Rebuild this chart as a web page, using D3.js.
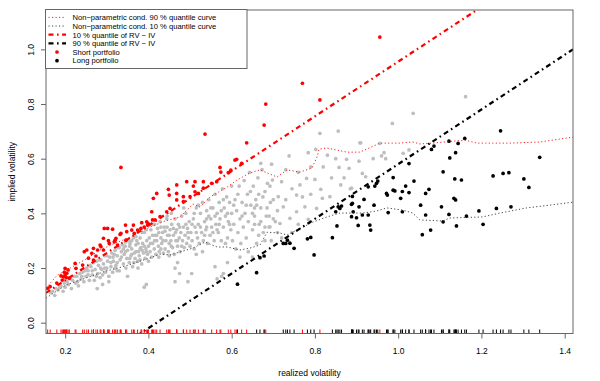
<!DOCTYPE html>
<html><head><meta charset="utf-8">
<script src="https://cdn.jsdelivr.net/npm/d3@7"></script>
<style>
body{margin:0;background:#fff}
svg{display:block}
text{font-family:"Liberation Sans",Arial,Helvetica,sans-serif;fill:#000}
</style>
</head><body>
<svg id="chart" width="600" height="381"></svg>
<script>
// ---------- data (realized volatility, implied volatility) ----------
const grayPoints = [
[0.165,0.11],[0.17,0.115],[0.175,0.1],[0.178,0.125],[0.183,0.12],[0.187,0.13],[0.19,0.135],[0.195,0.115],[0.198,0.145],[0.2,0.13],[0.205,0.15],[0.208,0.14],[0.212,0.16],[0.215,0.125],[0.218,0.155],[0.222,0.17],[0.225,0.145],[0.228,0.17],[0.232,0.135],[0.235,0.18],[0.238,0.16],[0.242,0.185],[0.245,0.15],[0.248,0.19],
[0.25,0.17],[0.252,0.2],[0.255,0.19],[0.258,0.155],[0.26,0.21],[0.262,0.205],[0.265,0.175],[0.268,0.22],[0.27,0.155],[0.272,0.195],[0.275,0.225],[0.277,0.125],[0.278,0.18],[0.28,0.21],[0.282,0.23],[0.284,0.165],[0.286,0.23],[0.288,0.195],[0.29,0.175],[0.292,0.215],[0.295,0.245],[0.297,0.185],[0.3,0.245],[0.3,0.2],[0.302,0.225],[0.305,0.17],[0.307,0.24],[0.31,0.205],[0.312,0.255],[0.314,0.185],[0.316,0.225],[0.318,0.25],[0.32,0.2],[0.32,0.265],[0.305,0.15],[0.29,0.14],
[0.322,0.21],[0.325,0.245],[0.327,0.275],[0.33,0.19],[0.332,0.23],[0.335,0.26],[0.337,0.285],[0.34,0.215],[0.342,0.25],[0.344,0.28],[0.346,0.2],[0.348,0.235],[0.35,0.265],[0.352,0.3],[0.354,0.22],[0.356,0.29],[0.358,0.245],[0.36,0.27],[0.362,0.205],[0.364,0.31],[0.366,0.255],[0.368,0.235],[0.37,0.285],[0.372,0.3],[0.374,0.225],[0.376,0.26],[0.378,0.245],[0.38,0.31],[0.382,0.275],[0.384,0.215],[0.386,0.29],[0.388,0.255],[0.39,0.33],[0.392,0.235],[0.394,0.27],[0.396,0.3],[0.398,0.25],[0.4,0.28],[0.4,0.225],[0.35,0.17],[0.39,0.13],[0.395,0.14],[0.375,0.2],[0.36,0.3],[0.345,0.295],[0.33,0.275],[0.385,0.33],[0.37,0.315],[0.395,0.34],[0.34,0.27],[0.365,0.22],[0.38,0.23],[0.355,0.235],[0.325,0.19],[0.385,0.265],
[0.402,0.31],[0.404,0.26],[0.406,0.34],[0.408,0.24],[0.41,0.29],[0.412,0.36],[0.414,0.27],[0.416,0.32],[0.418,0.25],[0.42,0.3],[0.422,0.345],[0.424,0.28],[0.426,0.26],[0.428,0.37],[0.43,0.31],[0.432,0.29],[0.434,0.33],[0.436,0.255],[0.438,0.35],[0.44,0.27],[0.442,0.3],[0.444,0.38],[0.446,0.32],[0.448,0.26],[0.45,0.29],[0.452,0.34],[0.454,0.3],[0.456,0.36],[0.458,0.275],[0.46,0.32],[0.462,0.25],[0.464,0.38],[0.466,0.3],[0.468,0.34],[0.47,0.28],[0.472,0.36],[0.474,0.31],[0.476,0.26],[0.478,0.33],[0.48,0.39],[0.482,0.3],[0.484,0.35],[0.486,0.275],[0.488,0.32],[0.49,0.4],[0.492,0.29],[0.494,0.345],[0.496,0.31],[0.498,0.37],[0.5,0.28],[0.464,0.2],[0.47,0.22],[0.464,0.15],[0.475,0.18],[0.495,0.15],[0.43,0.35],[0.415,0.36],[0.445,0.39],[0.455,0.4],[0.425,0.24],[0.485,0.42],[0.45,0.245],[0.44,0.335],[0.46,0.345],[0.42,0.32],
[0.502,0.33],[0.505,0.3],[0.508,0.38],[0.51,0.27],[0.512,0.35],[0.515,0.42],[0.518,0.31],[0.52,0.36],[0.522,0.29],[0.525,0.4],[0.528,0.33],[0.53,0.44],[0.532,0.3],[0.535,0.37],[0.538,0.34],[0.54,0.41],[0.542,0.29],[0.545,0.45],[0.548,0.32],[0.55,0.38],[0.552,0.35],[0.555,0.42],[0.558,0.3],[0.56,0.47],[0.562,0.36],[0.565,0.4],[0.568,0.33],[0.57,0.44],[0.572,0.38],[0.575,0.3],[0.578,0.49],[0.58,0.35],[0.582,0.42],[0.585,0.39],[0.588,0.46],[0.59,0.31],[0.592,0.37],[0.595,0.44],[0.598,0.34],[0.6,0.5],[0.6,0.4],[0.504,0.18],[0.56,0.205],[0.565,0.16],[0.576,0.17],[0.58,0.18],[0.59,0.22],[0.515,0.25],[0.53,0.26],[0.545,0.39],[0.555,0.33],[0.57,0.36],[0.585,0.29],[0.52,0.43],[0.54,0.35],
[0.602,0.3],[0.605,0.36],[0.608,0.45],[0.61,0.27],[0.612,0.41],[0.615,0.33],[0.618,0.5],[0.62,0.38],[0.622,0.29],[0.625,0.44],[0.628,0.35],[0.63,0.52],[0.632,0.4],[0.635,0.31],[0.638,0.47],[0.64,0.37],[0.643,0.55],[0.646,0.43],[0.65,0.34],[0.652,0.5],[0.655,0.39],[0.658,0.45],[0.66,0.29],[0.663,0.53],[0.666,0.36],[0.67,0.42],[0.673,0.56],[0.676,0.33],[0.68,0.48],[0.683,0.39],[0.686,0.51],[0.69,0.35],[0.693,0.44],[0.696,0.58],[0.7,0.38],[0.62,0.24],[0.64,0.26],[0.65,0.24],[0.68,0.3],[0.695,0.3],
[0.65,0.4],[0.66,0.43],[0.67,0.37],[0.675,0.46],[0.685,0.42],[0.69,0.39],[0.7,0.45],[0.705,0.37],[0.71,0.33],[0.665,0.32],[0.68,0.35],[0.655,0.36],
[0.812,0.693],[0.856,0.701],[0.784,0.622],[0.738,0.61],[0.802,0.634],[0.83,0.613],[0.876,0.598],[0.908,0.658],[0.888,0.492],[0.882,0.565],[0.858,0.568],[0.862,0.504],[0.814,0.488],[0.818,0.455],[0.836,0.461],[0.78,0.528],[0.8,0.524],[0.764,0.504],[0.756,0.467],[0.776,0.424],[0.804,0.418],[0.784,0.378],[0.756,0.406],[0.74,0.382],[0.724,0.424],[0.712,0.461],[0.72,0.516],[0.698,0.522],[0.692,0.5],[0.67,0.583],[0.716,0.363],[0.692,0.351],[0.986,0.729],[1.036,0.766],[1.162,0.827],[0.956,0.656],[0.91,0.658],[0.966,0.622],[0.96,0.61],[1.012,0.62],[1.026,0.632],[0.906,0.591],[0.914,0.546],[0.922,0.534],[0.885,0.49],[0.73,0.45],[0.745,0.49],[0.77,0.46],[0.79,0.47],[0.76,0.55],[0.73,0.56],[0.745,0.33],[0.76,0.36],[0.71,0.41],[0.72,0.31],[0.79,0.57],[0.84,0.53],[0.85,0.6],[0.87,0.53],[0.82,0.57],[0.94,0.6],[0.97,0.6],
[0.23,0.15],[0.24,0.17],[0.255,0.175],[0.265,0.19],[0.275,0.17],[0.285,0.2],[0.295,0.2],[0.31,0.22],[0.315,0.24],[0.325,0.22],[0.335,0.24],[0.345,0.26],[0.355,0.28],[0.36,0.25],[0.37,0.26],[0.375,0.29],[0.38,0.27],[0.39,0.28],[0.395,0.26],[0.405,0.29],[0.41,0.32],[0.415,0.3],[0.425,0.33],[0.43,0.27],[0.435,0.3],[0.445,0.35],[0.45,0.32],[0.455,0.28],[0.465,0.33],[0.47,0.3],[0.475,0.35],[0.48,0.28],[0.49,0.36],[0.495,0.33],[0.505,0.36],[0.51,0.4],[0.515,0.33],[0.525,0.35],[0.535,0.32],[0.54,0.38],[0.55,0.42],[0.56,0.39],[0.565,0.34],[0.575,0.41],[0.58,0.45],[0.59,0.4],[0.595,0.36],[0.605,0.43],[0.615,0.47],[0.625,0.39],[0.635,0.43],[0.645,0.48],[0.655,0.42],[0.665,0.47]
];
const shortPoints = [
[0.158,0.126],[0.164,0.132],[0.18,0.145],[0.19,0.171],[0.196,0.168],[0.2,0.199],[0.204,0.181],[0.198,0.185],[0.207,0.193],[0.21,0.163],[0.193,0.156],[0.224,0.217],[0.226,0.199],[0.242,0.211],[0.246,0.26],[0.252,0.266],[0.256,0.236],[0.264,0.254],[0.268,0.229],[0.268,0.272],[0.278,0.266],[0.274,0.244],[0.284,0.284],[0.292,0.266],[0.286,0.278],[0.292,0.309],[0.294,0.345],[0.302,0.345],[0.314,0.342],[0.304,0.3],[0.306,0.29],[0.318,0.296],[0.32,0.302],[0.322,0.309],[0.332,0.323],[0.326,0.284],[0.334,0.327],[0.346,0.302],[0.345,0.357],[0.348,0.333],[0.36,0.339],[0.364,0.357],[0.366,0.327],[0.374,0.339],[0.382,0.345],[0.384,0.366],[0.396,0.369],[0.398,0.357],[0.41,0.376],[0.334,0.568],[0.408,0.406],[0.412,0.455],[0.42,0.473],[0.416,0.376],[0.428,0.388],[0.444,0.406],[0.452,0.418],[0.448,0.488],[0.45,0.467],[0.468,0.504],[0.468,0.473],[0.468,0.449],[0.484,0.461],[0.484,0.443],[0.492,0.516],[0.5,0.461],[0.508,0.5],[0.512,0.479],[0.512,0.516],[0.532,0.516],[0.532,0.492],[0.552,0.51],[0.564,0.516],[0.572,0.568],[0.574,0.551],[0.592,0.549],[0.598,0.558],[0.608,0.595],[0.612,0.598],[0.624,0.583],[0.636,0.658],[0.536,0.69],[0.678,0.723],[0.682,0.8],[0.77,0.876],[0.812,0.815],[0.956,1.045],[0.52,0.473],[0.39,0.35],[0.4,0.362],[0.2,0.175],[0.203,0.165]
];
const longPoints = [
[0.66,0.183],[0.668,0.238],[0.678,0.244],[0.614,0.141],[0.724,0.29],[0.73,0.29],[0.734,0.302],[0.74,0.291],[0.75,0.272],[0.798,0.248],[0.782,0.307],[0.79,0.312],[0.842,0.311],[0.853,0.354],[0.856,0.424],[0.86,0.418],[0.864,0.427],[0.85,0.406],[0.888,0.388],[0.904,0.356],[0.89,0.437],[0.9,0.384],[0.89,0.462],[0.888,0.433],[0.892,0.406],[0.914,0.394],[0.918,0.451],[0.928,0.497],[0.928,0.394],[0.932,0.357],[0.934,0.339],[0.942,0.43],[0.948,0.51],[0.951,0.518],[0.944,0.5],[0.972,0.473],[0.974,0.467],[0.976,0.403],[0.988,0.485],[0.992,0.482],[0.988,0.531],[1.006,0.455],[1.01,0.406],[1.018,0.5],[1.026,0.476],[1.026,0.582],[1.038,0.518],[1.054,0.43],[1.058,0.322],[1.066,0.473],[1.074,0.488],[1.066,0.394],[1.078,0.339],[1.08,0.634],[1.086,0.646],[1.108,0.552],[1.104,0.424],[1.108,0.369],[1.122,0.664],[1.124,0.603],[1.122,0.396],[1.138,0.622],[1.144,0.656],[1.16,0.674],[1.136,0.526],[1.152,0.522],[1.134,0.455],[1.138,0.449],[1.14,0.354],[1.164,0.39],[1.194,0.409],[1.204,0.36],[1.228,0.537],[1.236,0.418],[1.246,0.702],[1.252,0.546],[1.266,0.549],[1.271,0.424],[1.302,0.526],[1.314,0.495],[1.34,0.605],[1.01,0.48],[0.906,0.424]
];
const q90Curve = [
[0.154,0.127],[0.181,0.174],[0.212,0.2],[0.246,0.229],[0.284,0.266],[0.32,0.291],[0.356,0.313],[0.404,0.35],[0.44,0.372],[0.476,0.387],[0.507,0.434],[0.524,0.423],[0.548,0.46],[0.589,0.496],[0.613,0.522],[0.644,0.548],[0.668,0.559],[0.709,0.533],[0.733,0.559],[0.764,0.551],[0.793,0.566],[0.805,0.606],[0.81,0.635],[0.829,0.639],[0.877,0.624],[0.908,0.624],[0.956,0.657],[1.004,0.657],[1.035,0.661],[1.052,0.654],[1.083,0.657],[1.16,0.668],[1.189,0.657],[1.268,0.657],[1.34,0.661],[1.42,0.679]
];
const q10Curve = [
[0.154,0.09],[0.202,0.138],[0.236,0.156],[0.298,0.189],[0.344,0.207],[0.404,0.237],[0.428,0.251],[0.452,0.248],[0.483,0.262],[0.507,0.273],[0.536,0.295],[0.565,0.277],[0.589,0.277],[0.62,0.266],[0.644,0.273],[0.668,0.284],[0.685,0.331],[0.716,0.328],[0.733,0.321],[0.757,0.339],[0.795,0.368],[0.829,0.387],[0.86,0.401],[0.915,0.401],[0.949,0.409],[0.973,0.42],[1.011,0.412],[1.035,0.401],[1.052,0.376],[1.107,0.372],[1.124,0.383],[1.203,0.387],[1.244,0.401],[1.309,0.42],[1.364,0.43],[1.42,0.441]
];
const shortQuantile = 0.045;   // 10 % quantile of RV - IV
const longQuantile = 0.42;     // 90 % quantile of RV - IV
const xTicks = [0.2,0.4,0.6,0.8,1.0,1.2,1.4];
const yTicks = [0.0,0.2,0.4,0.6,0.8,1.0];
const legendLabels = [
  "Non\u2212parametric cond. 90 % quantile curve",
  "Non\u2212parametric cond. 10 % quantile curve",
  "10 % quantile of RV \u2212 IV",
  "90 % quantile of RV \u2212 IV",
  "Short portfolio",
  "Long portfolio"
];
const xTitle = "realized volatility";
const yTitle = "implied volatility";

// ---------- layout ----------
const L = 46, R = 573, T = 10, B = 333.5;
const x = d3.scaleLinear().domain([0.154, 1.42]).range([L, R]);
const y = d3.scaleLinear().domain([-0.0395, 1.144]).range([B, T]);
const svg = d3.select("#chart");
const FS = 8.5, LFS = 7.6;

svg.append("defs").append("clipPath").attr("id","plotclip")
  .append("rect").attr("x",L).attr("y",T).attr("width",R-L).attr("height",B-T);
const plot = svg.append("g").attr("clip-path","url(#plotclip)");

const r = 1.85;
plot.append("g").selectAll("circle").data(grayPoints).join("circle")
  .attr("cx",d=>x(d[0])).attr("cy",d=>y(d[1])).attr("r",r).attr("fill","#bebebe");
plot.append("g").selectAll("circle").data(shortPoints).join("circle")
  .attr("cx",d=>x(d[0])).attr("cy",d=>y(d[1])).attr("r",r).attr("fill","#ff0000");
plot.append("g").selectAll("circle").data(longPoints).join("circle")
  .attr("cx",d=>x(d[0])).attr("cy",d=>y(d[1])).attr("r",r).attr("fill","#000");

const line = d3.line().x(d=>x(d[0])).y(d=>y(d[1])).curve(d3.curveLinear);
plot.append("path").attr("d",line(q90Curve)).attr("fill","none")
  .attr("stroke","#ff2020").attr("stroke-width",1).attr("stroke-dasharray","1.2,2.3");
plot.append("path").attr("d",line(q10Curve)).attr("fill","none")
  .attr("stroke","#444").attr("stroke-width",1).attr("stroke-dasharray","1.2,2.3");

const xd = x.domain();
const shortLine = [[xd[0], xd[0]-shortQuantile],[xd[1], xd[1]-shortQuantile]];
const longLine = [[xd[0], xd[0]-longQuantile],[xd[1], xd[1]-longQuantile]];
plot.append("path").attr("d",line(shortLine)).attr("fill","none")
  .attr("stroke","#ff0000").attr("stroke-width",2.2).attr("stroke-dasharray","5,3.5,1.6,3.5");
plot.append("path").attr("d",line(longLine)).attr("fill","none")
  .attr("stroke","#000").attr("stroke-width",2.2).attr("stroke-dasharray","5,3.5,1.6,3.5");

// rug
const rug = svg.append("g");
rug.selectAll("line.s").data(shortPoints).join("line").attr("class","s")
  .attr("x1",d=>x(d[0])).attr("x2",d=>x(d[0])).attr("y1",B-4).attr("y2",B)
  .attr("stroke","#ff0000").attr("stroke-width",1);
rug.selectAll("line.l").data(longPoints).join("line").attr("class","l")
  .attr("x1",d=>x(d[0])).attr("x2",d=>x(d[0])).attr("y1",B-4).attr("y2",B)
  .attr("stroke","#000").attr("stroke-width",1);

// box
svg.append("rect").attr("x",L).attr("y",T).attr("width",R-L).attr("height",B-T)
  .attr("fill","none").attr("stroke","#666").attr("stroke-width",1);

// axes
const xAxis = svg.append("g").attr("transform",`translate(0,${B})`)
  .call(d3.axisBottom(x).tickValues(xTicks).tickSize(5).tickFormat(d3.format(".1f")));
xAxis.select(".domain").remove();
xAxis.selectAll(".tick line").attr("stroke","#666");
xAxis.selectAll(".tick text").attr("dy",0).attr("y",20.5)
  .style("font-size",FS+"px").attr("font-family",null);

const yAxis = svg.append("g").attr("transform",`translate(${L},0)`)
  .call(d3.axisLeft(y).tickValues(yTicks).tickSize(5).tickFormat(d3.format(".1f")));
yAxis.select(".domain").remove();
yAxis.selectAll(".tick line").attr("stroke","#666");
yAxis.selectAll(".tick text").attr("transform","rotate(-90)").attr("x",0).attr("y",-11.8)
  .attr("dy",0).attr("text-anchor","middle").style("font-size",FS+"px").attr("font-family",null);

svg.append("text").attr("x",(L+R)/2).attr("y",375.5).attr("text-anchor","middle")
  .style("font-size",FS+"px").text(xTitle);
svg.append("text").attr("transform",`translate(14.5,${(T+B)/2}) rotate(-90)`)
  .attr("text-anchor","middle").style("font-size",FS+"px").text(yTitle);

// legend
const lg = svg.append("g");
lg.append("rect").attr("x",45.5).attr("y",9.5).attr("width",201.5).attr("height",59)
  .attr("fill","#fff").attr("stroke","#666").attr("stroke-width",1);
const rowY = i => 17.4 + i*8.65;
const legendStyles = [
  {type:"line", color:"#ff2020", w:1, dash:"1.2,2.3"},
  {type:"line", color:"#444", w:1, dash:"1.2,2.3"},
  {type:"line", color:"#ff0000", w:2.2, dash:"5,3.5,1.6,3.5"},
  {type:"line", color:"#000", w:2.2, dash:"5,3.5,1.6,3.5"},
  {type:"point", color:"#ff0000"},
  {type:"point", color:"#000"}
];
legendLabels.forEach((lab,i)=>{
  const s = legendStyles[i];
  if (s.type==="line") {
    lg.append("line").attr("x1",48.5).attr("x2",66).attr("y1",rowY(i)).attr("y2",rowY(i))
      .attr("stroke",s.color).attr("stroke-width",s.w).attr("stroke-dasharray",s.dash);
  } else {
    lg.append("circle").attr("cx",57).attr("cy",rowY(i)).attr("r",r).attr("fill",s.color);
  }
  lg.append("text").attr("x",72.5).attr("y",rowY(i)+2.8).style("font-size",LFS+"px")
    .attr("textLength", null).text(lab);
});
</script>
</body></html>
